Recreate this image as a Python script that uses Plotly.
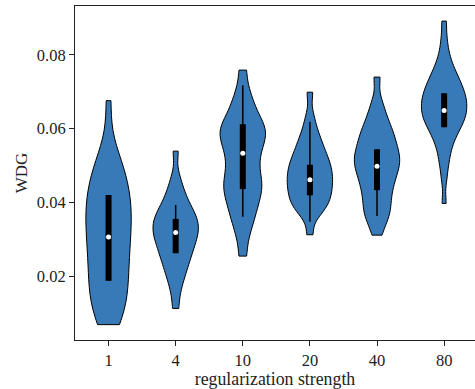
import plotly.graph_objects as go

categories = ["1", "4", "10", "20", "40", "80"]

wdg_1 = [0.0068, 0.0084, 0.0101, 0.0116, 0.0133, 0.0149, 0.0166, 0.0181, 0.0198,
         0.0213, 0.0230, 0.0246, 0.0261, 0.0277, 0.0292, 0.0307, 0.0321, 0.0335,
         0.0349, 0.0362, 0.0375, 0.0388, 0.0401, 0.0415, 0.0429, 0.0444, 0.0460,
         0.0477, 0.0495, 0.0515, 0.0538, 0.0676]
wdg_4 = [0.0112, 0.0156, 0.0183, 0.0201, 0.0216, 0.0229, 0.0241, 0.0251, 0.0261,
         0.0270, 0.0279, 0.0287, 0.0295, 0.0302, 0.0309, 0.0316, 0.0323, 0.0329,
         0.0335, 0.0342, 0.0348, 0.0355, 0.0362, 0.0369, 0.0377, 0.0386, 0.0397,
         0.0409, 0.0424, 0.0442, 0.0470, 0.0539]
wdg_10 = [0.0254, 0.0305, 0.0335, 0.0355, 0.0373, 0.0388, 0.0403, 0.0416, 0.0428,
          0.0439, 0.0449, 0.0459, 0.0471, 0.0485, 0.0499, 0.0513, 0.0527, 0.0540,
          0.0552, 0.0563, 0.0573, 0.0582, 0.0590, 0.0598, 0.0607, 0.0617, 0.0628,
          0.0642, 0.0660, 0.0680, 0.0706, 0.0759]
wdg_20 = [0.0312, 0.0362, 0.0375, 0.0385, 0.0393, 0.0401, 0.0409, 0.0416, 0.0424,
          0.0431, 0.0438, 0.0445, 0.0452, 0.0460, 0.0466, 0.0472, 0.0479, 0.0487,
          0.0494, 0.0502, 0.0509, 0.0516, 0.0524, 0.0535, 0.0546, 0.0557, 0.0568,
          0.0585, 0.0604, 0.0635, 0.0699]
wdg_40 = [0.0311, 0.0342, 0.0358, 0.0371, 0.0384, 0.0397, 0.0410, 0.0424, 0.0436,
          0.0447, 0.0458, 0.0468, 0.0477, 0.0486, 0.0495, 0.0503, 0.0510, 0.0517,
          0.0524, 0.0532, 0.0541, 0.0550, 0.0559, 0.0568, 0.0578, 0.0589, 0.0600,
          0.0612, 0.0628, 0.0648, 0.0675, 0.0740]
wdg_80 = [0.0397, 0.0462, 0.0498, 0.0520, 0.0540, 0.0556, 0.0568, 0.0579, 0.0588,
          0.0596, 0.0603, 0.0610, 0.0616, 0.0622, 0.0627, 0.0632, 0.0637, 0.0642,
          0.0647, 0.0652, 0.0657, 0.0662, 0.0667, 0.0672, 0.0677, 0.0682, 0.0687,
          0.0692, 0.0697, 0.0703, 0.0709, 0.0715, 0.0721, 0.0728, 0.0735, 0.0743,
          0.0752, 0.0762, 0.0774, 0.0790, 0.0812, 0.0845, 0.0892]
samples = [wdg_1, wdg_4, wdg_10, wdg_20, wdg_40, wdg_80]
bandwidths = [0.0062, 0.0026, 0.0030, 0.0024, 0.0026, 0.0024]

# inner box statistics
q1 = [0.0187, 0.0262, 0.0436, 0.0419, 0.0433, 0.0604]
median = [0.0306, 0.0318, 0.0533, 0.0461, 0.0498, 0.0649]
q3 = [0.0420, 0.0355, 0.0612, 0.0502, 0.0544, 0.0696]
whisker_lo = [0.0187, 0.0262, 0.0361, 0.0347, 0.0363, 0.0604]
whisker_hi = [0.0420, 0.0393, 0.0718, 0.0619, 0.0544, 0.0696]

FILL = "#3879b7"
FONT = "Liberation Serif, serif"

fig = go.Figure()
for cat, s, bw in zip(categories, samples, bandwidths):
    fig.add_trace(go.Violin(
        x=[cat] * len(s), y=s, spanmode="hard", scalemode="width", width=0.676,
        bandwidth=bw,
        fillcolor=FILL, line=dict(color="black", width=1), opacity=1,
        points=False, box_visible=False, meanline_visible=False,
        showlegend=False, hoverinfo="skip"))

wx, wy, bx, by = [], [], [], []
for c, lo, hi, a, b in zip(categories, whisker_lo, whisker_hi, q1, q3):
    wx += [c, c, None]
    wy += [lo, hi, None]
    bx += [c, c, None]
    by += [a, b, None]
fig.add_trace(go.Scatter(x=wx, y=wy, mode="lines", line=dict(color="black", width=1.5),
                         showlegend=False, hoverinfo="skip"))
fig.add_trace(go.Scatter(x=bx, y=by, mode="lines", line=dict(color="black", width=6),
                         showlegend=False, hoverinfo="skip"))
fig.add_trace(go.Scatter(x=categories, y=median, mode="markers",
                         marker=dict(color="white", size=5, line=dict(width=0)),
                         showlegend=False, hoverinfo="skip"))

fig.update_layout(
    width=475, height=389,
    margin=dict(l=75, r=0, t=6, b=49),
    paper_bgcolor="white", plot_bgcolor="white",
    violinmode="overlay",
    font=dict(family=FONT, size=16.5, color="#222"),
)
fig.update_xaxes(
    type="category", categoryorder="array", categoryarray=categories,
    range=[-0.5, 5.46], showline=True, linecolor="#222", linewidth=1, mirror=True,
    showgrid=False, zeroline=False, ticks="outside", ticklen=5, tickcolor="#222",
    tickfont=dict(family=FONT, size=16.5, color="#222"),
    title=dict(text="regularization strength", font=dict(family=FONT, size=17.8, color="#222"),
               standoff=0),
)
fig.update_yaxes(
    range=[0.00263, 0.0933], tickvals=[0.02, 0.04, 0.06, 0.08],
    ticktext=["0.02", "0.04", "0.06", "0.08"],
    showline=True, linecolor="#222", linewidth=1, mirror=False,
    showgrid=False, zeroline=False, ticks="outside", ticklen=5, tickcolor="#222",
    tickfont=dict(family=FONT, size=16.5, color="#222"),
    title=dict(text="WDG", font=dict(family=FONT, size=17, color="#222"), standoff=4),
)

fig.write_html("out.html", config={"displayModeBar": False},
               post_script="document.body.style.margin='0';")
